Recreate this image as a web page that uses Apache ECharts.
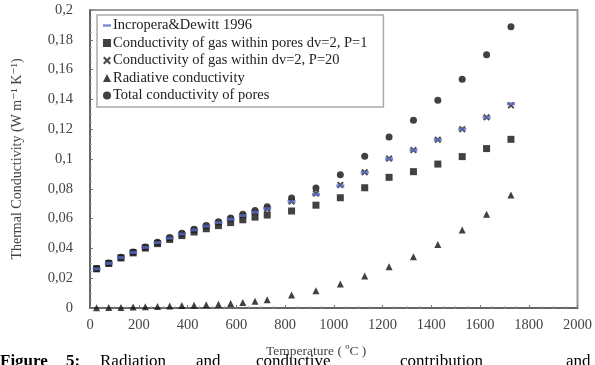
<!DOCTYPE html>
<html><head><meta charset="utf-8">
<script src="https://cdn.jsdelivr.net/npm/echarts@6/dist/echarts.min.js"></script>
<style>html,body{margin:0;padding:0;background:#fff;}#c{width:595px;height:365px;}</style>
</head><body><div id="c"></div>
<script>
var temps = [27,77,127,177,227,277,327,377,427,477,527,577,627,677,727,827,927,1027,1127,1227,1327,1427,1527,1627,1727];
var incropera = [0.0263,0.0300,0.0338,0.0373,0.0407,0.0439,0.0469,0.0497,0.0524,0.0549,0.0573,0.0596,0.0620,0.0643,0.0667,0.0715,0.0763,0.0820,0.0910,0.1000,0.1060,0.1130,0.1200,0.1280,0.1370];
var gasP1 = [0.0263,0.0299,0.0336,0.0370,0.0402,0.0432,0.0460,0.0486,0.0510,0.0532,0.0553,0.0573,0.0592,0.0610,0.0624,0.0651,0.0690,0.0740,0.0807,0.0877,0.0915,0.0966,0.1016,0.1070,0.1132];
var gasP20 = [0.0263,0.0300,0.0338,0.0373,0.0407,0.0438,0.0468,0.0496,0.0523,0.0548,0.0572,0.0595,0.0619,0.0642,0.0666,0.0714,0.0768,0.0826,0.0911,0.1003,0.1060,0.1130,0.1200,0.1280,0.1360];
var radiative = [0.0002,0.0003,0.0004,0.0006,0.0008,0.0010,0.0013,0.0016,0.0019,0.0022,0.0026,0.0031,0.0037,0.0045,0.0056,0.0088,0.0116,0.0161,0.0215,0.0277,0.0344,0.0427,0.0523,0.0630,0.0758];
var totalPores = [0.0265,0.0302,0.0340,0.0376,0.0410,0.0442,0.0473,0.0502,0.0529,0.0554,0.0579,0.0604,0.0629,0.0655,0.0680,0.0739,0.0806,0.0895,0.1018,0.1148,0.1260,0.1395,0.1535,0.1700,0.1888];
var seriesNames = ['Incropera&Dewitt 1996','Conductivity of gas within pores dv=2, P=1','Conductivity of gas within dv=2, P=20','Radiative conductivity','Total conductivity of pores'];
var yTicks = ['0','0,02','0,04','0,06','0,08','0,1','0,12','0,14','0,16','0,18','0,2'];
var xTicks = ['0','200','400','600','800','1000','1200','1400','1600','1800','2000'];

function pairs(ys){ return temps.map(function(t,i){ return [t, ys[i]]; }); }
var serif = '"Liberation Serif", "DejaVu Serif", serif';
var xPath = 'path://M0,2L2,0L5,3L8,0L10,2L7,5L10,8L8,10L5,7L2,10L0,8L3,5Z';
var dashPath = 'path://M0,0H10V3H0Z';
var capFont = '17px "Liberation Serif", serif';
var capBold = 'bold 17px "Liberation Serif", serif';

var chart = echarts.init(document.getElementById('c'), null, {renderer:'canvas'});
chart.setOption({
  animation:false,
  backgroundColor:'#fff',
  grid:{left:90,right:16,top:10,bottom:57,show:true,borderColor:'#9a9a9a',borderWidth:2,backgroundColor:'transparent'},
  legend:{
    orient:'vertical', left:97, top:15, width:300,
    backgroundColor:'#fff', borderColor:'#aaa', borderWidth:1.5,
    padding:[3,16,4,6], itemGap:2.5, itemWidth:8, itemHeight:8,
    textStyle:{fontFamily:serif,fontSize:14.5,color:'#222',lineHeight:14,padding:[0,0,0,-3]},
    data:[
      {name:seriesNames[0],icon:dashPath,itemStyle:{color:'#5a6cc0'}},
      {name:seriesNames[1],icon:'rect'},
      {name:seriesNames[2],icon:xPath},
      {name:seriesNames[3],icon:'triangle'},
      {name:seriesNames[4],icon:'circle'}
    ]
  },
  xAxis:{
    type:'value',min:0,max:2000,interval:200,
    axisLine:{show:true,lineStyle:{color:'#555',width:1.5}},
    axisTick:{show:true,inside:true,length:3,lineStyle:{color:'#777'}},
    minorTick:{show:true,splitNumber:4,length:2,lineStyle:{color:'#aaa'}},
    splitLine:{show:false},
    axisLabel:{margin:10,fontFamily:serif,fontSize:14.5,color:'#444',
      formatter:function(v){ return xTicks[Math.round(v/200)]; }}
  },
  yAxis:{
    type:'value',min:0,max:0.2,interval:0.02,
    axisLine:{show:true,lineStyle:{color:'#555',width:1.5}},
    axisTick:{show:true,inside:true,length:3,lineStyle:{color:'#777'}},
    minorTick:{show:true,splitNumber:4,length:2,lineStyle:{color:'#aaa'}},
    splitLine:{show:false},
    axisLabel:{margin:17,fontFamily:serif,fontSize:14.5,color:'#444',
      formatter:function(v){ return yTicks[Math.round(v/0.02)]; }},
    name:'Thermal Conductivity (W m\u207B\u00B9 K\u207B\u00B9)',
    nameLocation:'middle',nameGap:66,
    nameTextStyle:{fontFamily:serif,fontSize:14,color:'#444'}
  },
  graphic:[
    {type:'text',left:266,top:344,style:{text:'Temperature ( \u00BAC )',font:'13.5px "Liberation Serif", serif',fill:'#444'}},
    {type:'text',left:0,top:353,style:{text:'Figure',font:capBold,fill:'#000'}},
    {type:'text',left:66,top:353,style:{text:'5:',font:capBold,fill:'#000'}},
    {type:'text',left:100,top:353,style:{text:'Radiation',font:capFont,fill:'#000'}},
    {type:'text',left:196,top:353,style:{text:'and',font:capFont,fill:'#000'}},
    {type:'text',left:256,top:353,style:{text:'conductive',font:capFont,fill:'#000'}},
    {type:'text',left:400,top:353,style:{text:'contribution',font:capFont,fill:'#000'}},
    {type:'text',left:566,top:353,style:{text:'and',font:capFont,fill:'#000'}}
  ],
  series:[
    {name:seriesNames[0],type:'scatter',data:pairs(incropera),symbol:dashPath,symbolSize:[8,3],z:5,
      itemStyle:{color:'#5a6cc0'}},
    {name:seriesNames[1],type:'scatter',data:pairs(gasP1),symbol:'rect',symbolSize:7,z:3,
      itemStyle:{color:'#111'}},
    {name:seriesNames[2],type:'scatter',data:pairs(gasP20),symbol:xPath,symbolSize:7,z:4,
      itemStyle:{color:'#222'}},
    {name:seriesNames[3],type:'scatter',data:pairs(radiative),symbol:'triangle',symbolSize:7,z:3,
      itemStyle:{color:'#111'}},
    {name:seriesNames[4],type:'scatter',data:pairs(totalPores),symbol:'circle',symbolSize:7,z:3,
      itemStyle:{color:'#111'}}
  ]
});
</script></body></html>
